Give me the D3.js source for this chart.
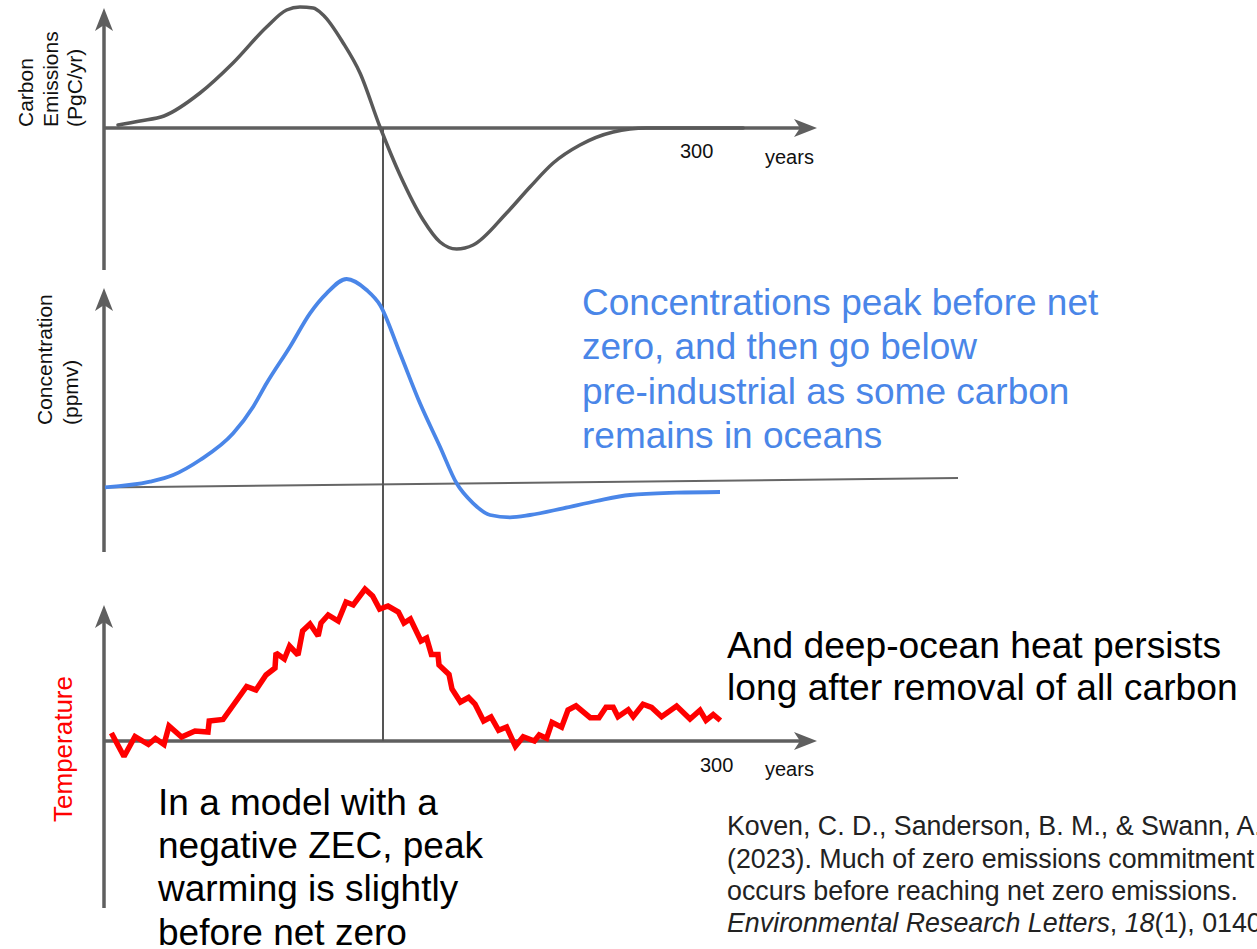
<!DOCTYPE html>
<html>
<head>
<meta charset="utf-8">
<script src="https://cdn.jsdelivr.net/npm/d3@7"></script>
<style>
  html, body { margin: 0; padding: 0; background: #fff; }
  svg { display: block; font-family: "Liberation Sans", Arial, sans-serif; }
</style>
</head>
<body>
<svg id="chart" width="1257" height="949"></svg>
<script>
// schematic emissions (PgC/yr)
const emisYears  = [7, 18, 30, 48, 64.5, 81.3, 91.3, 98, 104.6, 109.6, 119.6, 128, 138, 148, 159.6, 168, 176.3, 184.6, 201.3, 213, 224.6, 238, 254.6, 271.3, 304.6, 319.6];
const emisValues = [0.3, 0.7, 1.2, 3.5, 6.5, 10.1, 11.8, 12.1, 12.0, 11.3, 8.5, 5.5, 0.1, -4.7, -9.2, -11.4, -12.1, -11.7, -8.5, -5.9, -3.5, -1.7, -0.4, 0, 0, 0];

// schematic CO2 concentration (ppmv)
const concYears  = [0.5, 23, 34.6, 48, 64.6, 74.6, 81.3, 93, 103, 111.3, 121.3, 131.3, 138, 148, 158, 168, 176.3, 184.6, 193, 203, 213, 229.6, 246.3, 263, 286.3, 308];
const concValues = [280.2, 285.8, 292.5, 307.5, 334.2, 360.8, 384.2, 420.8, 454.2, 474.2, 488.5, 477.5, 462.5, 414.2, 364.2, 320.8, 284.2, 264.2, 252.5, 250.2, 252.5, 259.2, 266.5, 272.5, 274.8, 275.5];

// pre-industrial reference line
const preYears  = [0, 427];
const preValues = [280, 289.5];

// schematic temperature anomaly (K)
const tempYears  = [3.7, 10, 15.5, 22.2, 25.7, 30, 32.5, 38.8, 45.5, 52, 52.6, 59.5, 71.3, 76, 81, 85.5, 86, 90.2, 92.8, 97, 99.3, 103, 107.1, 108.5, 112.1, 117.1, 121, 124.6, 130.5, 134.3, 137.8, 142, 147.2, 150, 153.2, 158.5, 161.3, 163.7, 167, 167.5, 172.5, 174, 178.2, 182.3, 185.5, 189.8, 193.5, 197.3, 201.3, 205.7, 209.6, 215.2, 217.6, 221.3, 224, 228.8, 232, 236, 243.1, 247.5, 251, 254.6, 257, 262.1, 264.6, 269.5, 273.8, 278.8, 286.3, 293, 298, 301, 304.6, 308.2];
const tempValues = [0.08, -0.155, 0.045, -0.035, 0.025, -0.035, 0.15, 0.04, 0.10, 0.09, 0.20, 0.215, 0.545, 0.51, 0.66, 0.73, 0.88, 0.82, 0.95, 0.86, 1.10, 1.17, 1.05, 1.18, 1.26, 1.20, 1.39, 1.36, 1.52, 1.45, 1.32, 1.35, 1.29, 1.18, 1.22, 1.00, 1.03, 0.865, 0.865, 0.76, 0.665, 0.52, 0.39, 0.435, 0.37, 0.20, 0.24, 0.107, 0.14, -0.053, 0.043, 0.0, 0.06, 0.027, 0.187, 0.138, 0.31, 0.352, 0.233, 0.233, 0.337, 0.337, 0.243, 0.313, 0.243, 0.368, 0.335, 0.243, 0.35, 0.22, 0.307, 0.207, 0.265, 0.205];

const netZeroYear = 139.5;
const axisEndYear = 356.5;
const tickLabel = '300';
const xLabel = 'years';

const emisLabel = ['Carbon', 'Emissions', '(PgC/yr)'];
const concLabel = ['Concentration', '(ppmv)'];
const tempLabel = 'Temperature';
const concNote = ['Concentrations peak before net', 'zero, and then go below', 'pre-industrial as some carbon', 'remains in oceans'];
const heatNote = ['And deep-ocean heat persists', 'long after removal of all carbon'];
const zecNote = ['In a model with a', 'negative ZEC, peak', 'warming is slightly', 'before net zero'];

const axisColor = '#5f5f5f';
const blue = '#4a86e8';

const svg = d3.select('#chart');

// scales
const x = d3.scaleLinear().domain([0, 300]).range([104, 704]);
const yEmis = d3.scaleLinear().domain([-12, 12]).range([248, 8]);
const yConc = d3.scaleLinear().domain([280, 480]).range([487.5, 287.5]);
const yTemp = d3.scaleLinear().domain([0, 1]).range([741, 641]);

// arrow head
svg.append('defs').append('marker')
    .attr('id', 'arrow')
    .attr('viewBox', '-14 -10 28 20')
    .attr('markerWidth', 28)
    .attr('markerHeight', 20)
    .attr('markerUnits', 'userSpaceOnUse')
    .attr('orient', 'auto')
    .attr('refX', 0)
    .attr('refY', 0)
    .append('path')
    .attr('d', 'M12,0 L-11,-9 L-5,0 L-11,9 Z')
    .attr('fill', axisColor);

function arrowLine(x1, y1, x2, y2, width) {
    // stop the shaft short of the tip so the head stays pointed
    const len = Math.hypot(x2 - x1, y2 - y1);
    const k = (len - 12) / len;
    svg.append('line')
        .attr('x1', x1).attr('y1', y1)
        .attr('x2', x1 + (x2 - x1) * k).attr('y2', y1 + (y2 - y1) * k)
        .attr('stroke', axisColor)
        .attr('stroke-width', width)
        .attr('marker-end', 'url(#arrow)');
}

// axes
arrowLine(x(0), yEmis(-14.2), x(0), yEmis(12), 3.5);
arrowLine(x(0), yEmis(0), x(axisEndYear), yEmis(0), 3.5);
arrowLine(x(0), yConc(215.5), x(0), yConc(479.5), 3.5);
arrowLine(x(0), yTemp(-1.67), x(0), yTemp(1.36), 3.5);
arrowLine(x(0), yTemp(0), x(axisEndYear), yTemp(0), 3.5);

// pre-industrial line
svg.append('path')
    .datum(preYears.map((d, i) => [d, preValues[i]]))
    .attr('d', d3.line().x(d => x(d[0])).y(d => yConc(d[1])))
    .attr('fill', 'none')
    .attr('stroke', '#666')
    .attr('stroke-width', 2);

// net zero marker
svg.append('line')
    .attr('x1', x(netZeroYear)).attr('x2', x(netZeroYear))
    .attr('y1', yEmis(0)).attr('y2', yTemp(0))
    .attr('stroke', '#555')
    .attr('stroke-width', 2);

// curves
svg.append('path')
    .datum(emisYears.map((d, i) => [d, emisValues[i]]))
    .attr('d', d3.line().x(d => x(d[0])).y(d => yEmis(d[1])).curve(d3.curveMonotoneX))
    .attr('fill', 'none')
    .attr('stroke', '#595959')
    .attr('stroke-width', 3.5)
    .attr('stroke-linecap', 'round');

svg.append('path')
    .datum(concYears.map((d, i) => [d, concValues[i]]))
    .attr('d', d3.line().x(d => x(d[0])).y(d => yConc(d[1])).curve(d3.curveMonotoneX))
    .attr('fill', 'none')
    .attr('stroke', blue)
    .attr('stroke-width', 3.8);

svg.append('path')
    .datum(tempYears.map((d, i) => [d, tempValues[i]]))
    .attr('d', d3.line().x(d => x(d[0])).y(d => yTemp(d[1])))
    .attr('fill', 'none')
    .attr('stroke', '#ff0000')
    .attr('stroke-width', 5.5)
    .attr('stroke-linejoin', 'miter')
    .attr('stroke-miterlimit', 2);

// x labels
[[yEmis(0), 680 - 104, 765 - 104, 30, 36], [yTemp(0), 700 - 104, 765 - 104, 31, 35]].forEach(([y0, tx, lx, dt, dl]) => {
    svg.append('text').attr('x', x(0) + tx).attr('y', y0 + dt)
        .attr('font-size', 20).attr('fill', '#111').text(tickLabel);
    svg.append('text').attr('x', x(0) + lx).attr('y', y0 + dl)
        .attr('font-size', 20).attr('fill', '#111').text(xLabel);
});

// y labels (rotated)
emisLabel.forEach((t, i) => {
    svg.append('text')
        .attr('transform', `translate(${33 + i * 24.7},127) rotate(-90)`)
        .attr('font-size', 21).attr('fill', '#111').text(t);
});
concLabel.forEach((t, i) => {
    svg.append('text')
        .attr('transform', `translate(${52 + i * 25.5},425) rotate(-90)`)
        .attr('font-size', 21).attr('fill', '#111').text(t);
});
svg.append('text')
    .attr('transform', 'translate(72,749) rotate(-90)')
    .attr('text-anchor', 'middle')
    .attr('font-size', 26).attr('fill', '#ff0000').text(tempLabel);

// annotations
function block(lines, x0, y0, step, size, color) {
    lines.forEach((t, i) => {
        svg.append('text').attr('x', x0).attr('y', y0 + i * step)
            .attr('font-size', size).attr('fill', color).text(t);
    });
}
block(concNote, 582, 315, 44.3, 37, blue);
block(heatNote, 727, 658, 42, 37.2, '#000');
block(zecNote, 158, 815, 43.2, 37, '#000');

// citation
const cite = svg.append('g').attr('font-size', 26.8).attr('fill', '#222');
cite.append('text').attr('x', 727).attr('y', 835).text('Koven, C. D., Sanderson, B. M., & Swann, A. D.');
cite.append('text').attr('x', 727).attr('y', 867.5).text('(2023). Much of zero emissions commitment');
cite.append('text').attr('x', 727).attr('y', 900).text('occurs before reaching net zero emissions.');
const last = cite.append('text').attr('x', 727).attr('y', 932);
last.append('tspan').attr('font-style', 'italic').text('Environmental Research Letters');
last.append('tspan').text(', ');
last.append('tspan').attr('font-style', 'italic').text('18');
last.append('tspan').text('(1), 014020.');
</script>
</body>
</html>
